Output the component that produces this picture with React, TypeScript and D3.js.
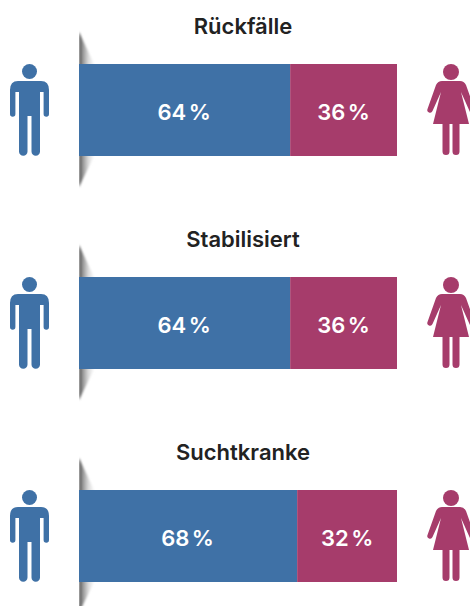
import React from "react";
import * as d3 from "d3";

const categories = ["Rückfälle", "Stabilisiert", "Suchtkranke"];
const menShare = [66.4, 66.4, 68.6];
const womenShare = [33.6, 33.6, 31.4];
const menLabels = ["64 %", "64 %", "68 %"];
const womenLabels = ["36 %", "36 %", "32 %"];

const BLUE = "#3f71a6";
const PINK = "#a63c6b";
const FONT = "Inter, 'Open Sans', sans-serif";

const x = d3.scaleLinear().domain([0, 100]).range([79, 397]);
const y = d3.scaleBand<string>().domain(categories).range([64, 64 + 213 * 2 + 92]).paddingInner(121 / 213).paddingOuter(0).align(0);

function Man({ cx, top }: { cx: number; top: number }) {
  const p = d3.path();
  const l = cx - 19.5, r = cx + 19.5;
  p.moveTo(l + 8, top + 17);
  p.lineTo(r - 8, top + 17);
  p.quadraticCurveTo(r, top + 17, r, top + 26);
  p.lineTo(r, top + 50);
  p.arc(r - 2.7, top + 50, 2.7, 0, Math.PI);
  p.lineTo(r - 5.4, top + 28);
  p.lineTo(cx + 10.5, top + 28);
  p.lineTo(cx + 10.5, top + 87.5);
  p.arc(cx + 6.25, top + 87.5, 4.25, 0, Math.PI);
  p.lineTo(cx + 2, top + 52);
  p.lineTo(cx - 2, top + 52);
  p.lineTo(cx - 2, top + 87.5);
  p.arc(cx - 6.25, top + 87.5, 4.25, 0, Math.PI);
  p.lineTo(cx - 10.5, top + 28);
  p.lineTo(l + 5.4, top + 28);
  p.lineTo(l + 5.4, top + 50);
  p.arc(l + 2.7, top + 50, 2.7, 0, Math.PI);
  p.lineTo(l, top + 26);
  p.quadraticCurveTo(l, top + 17, l + 8, top + 17);
  p.closePath();
  return (
    <g fill={BLUE}>
      <circle cx={cx} cy={top + 7.5} r={7.5} />
      <path d={p.toString()} />
    </g>
  );
}

function Woman({ cx, top }: { cx: number; top: number }) {
  const p = d3.path();
  p.moveTo(cx - 9, top + 17);
  p.lineTo(cx + 9, top + 17);
  p.quadraticCurveTo(cx + 13, top + 17, cx + 15, top + 21);
  p.lineTo(cx + 23.5, top + 45);
  p.arc(cx + 21, top + 46, 2.7, -0.4, Math.PI - 0.4);
  p.lineTo(cx + 10, top + 28);
  p.lineTo(cx + 18, top + 60);
  p.lineTo(cx + 8.5, top + 60);
  p.lineTo(cx + 8.5, top + 87.5);
  p.arc(cx + 5, top + 87.5, 3.5, 0, Math.PI);
  p.lineTo(cx + 1.5, top + 60);
  p.lineTo(cx - 1.5, top + 60);
  p.lineTo(cx - 1.5, top + 87.5);
  p.arc(cx - 5, top + 87.5, 3.5, 0, Math.PI);
  p.lineTo(cx - 8.5, top + 60);
  p.lineTo(cx - 18, top + 60);
  p.lineTo(cx - 10, top + 28);
  p.lineTo(cx - 18.5, top + 47);
  p.arc(cx - 21, top + 46, 2.7, 0.4, Math.PI + 0.4);
  p.lineTo(cx - 15, top + 21);
  p.quadraticCurveTo(cx - 13, top + 17, cx - 9, top + 17);
  p.closePath();
  return (
    <g fill={PINK}>
      <circle cx={cx} cy={top + 8} r={8} />
      <path d={p.toString()} />
    </g>
  );
}

export default function App() {
  const bh = y.bandwidth();
  return (
    <svg width={470} height={606} style={{ position: "absolute", left: 0, top: 0, background: "#fff" }}>
      <defs>
        <linearGradient id="sh" x1="0" x2="1" y1="0" y2="0">
          <stop offset="0" stopColor="#4a4a4a" />
          <stop offset="0.25" stopColor="#999" />
          <stop offset="0.6" stopColor="#ddd" />
          <stop offset="1" stopColor="#fff" />
        </linearGradient>
        <filter id="soft" x="-30%" y="-30%" width="160%" height="160%">
          <feGaussianBlur stdDeviation="1.2" />
        </filter>
        <clipPath id="right">
          <rect x={x(0)} y={0} width={60} height={606} />
        </clipPath>
      </defs>
      {categories.map((c, i) => {
        const top = y(c)!;
        return (
          <g key={c}>
            <text x={243} y={top - 30} textAnchor="middle" fontFamily={FONT} fontWeight={600} fontSize={22} fill="#222">{c}</text>
            <g clipPath="url(#right)">
              <polygon filter="url(#soft)" points={`${x(0)},${top - 32} ${x(0) + 16},${top + 2} ${x(0)},${top + 2}`} fill="url(#sh)" />
              <polygon filter="url(#soft)" points={`${x(0)},${top + bh - 2} ${x(0) + 16},${top + bh - 2} ${x(0)},${top + bh + 31}`} fill="url(#sh)" />
            </g>
            <rect x={x(0)} y={top} width={x(menShare[i]) - x(0)} height={bh} fill={BLUE} />
            <rect x={x(menShare[i])} y={top} width={x(menShare[i] + womenShare[i]) - x(menShare[i])} height={bh} fill={PINK} />
            <text x={(x(0) + x(menShare[i])) / 2 - 0.5} y={top + 56} textAnchor="middle" fontFamily={FONT} fontWeight={600} fontSize={22} wordSpacing={-3} fill="#fff">{menLabels[i]}</text>
            <text x={(x(menShare[i]) + x(100)) / 2} y={top + 56} textAnchor="middle" fontFamily={FONT} fontWeight={600} fontSize={22} wordSpacing={-3} fill="#fff">{womenLabels[i]}</text>
            <Man cx={29.5} top={top} />
            <Woman cx={451} top={top} />
          </g>
        );
      })}
    </svg>
  );
}
